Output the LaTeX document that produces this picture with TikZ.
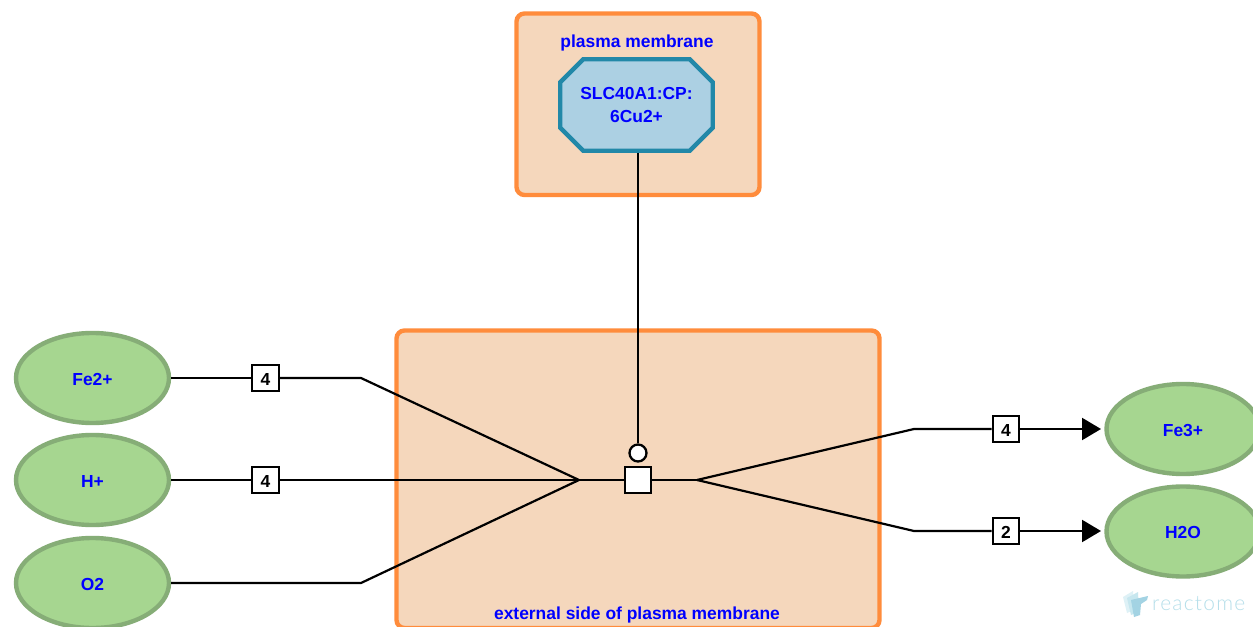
\documentclass[tikz,border=0pt]{standalone}
\usepackage{fontspec}
\setmainfont{Liberation Sans}
\newfontfamily\wmfont[LetterSpace=6]{Lato Light}
\usetikzlibrary{shapes.geometric,shapes.misc,arrows.meta}
\definecolor{compfill}{HTML}{F5D7BC}
\definecolor{compline}{HTML}{FF8C3C}
\definecolor{molfill}{HTML}{A6D690}
\definecolor{molline}{HTML}{86AD77}
\definecolor{cplxfill}{HTML}{ACD0E3}
\definecolor{cplxline}{HTML}{2288A8}
\definecolor{wm}{HTML}{B5DFEA}
\definecolor{wmb}{HTML}{8CC8DC}
\tikzset{
  x=1bp,y=-1bp,
  lbl/.style={text=blue,font=\fontsize{17.5}{22}\selectfont\bfseries,align=center,inner sep=0pt},
  compbox/.style={draw=compline,fill=compfill,line width=4.4bp,rounded corners=8bp,inner sep=0pt},
  mol/.style={ellipse,draw=molline,fill=molfill,line width=4.4bp,minimum width=153bp,minimum height=90bp,inner sep=0pt,lbl,text height=14bp,text depth=0pt},
  cplx/.style={chamfered rectangle,chamfered rectangle xsep=11.5bp,chamfered rectangle ysep=11.5bp,draw=cplxline,fill=cplxfill,line width=4.4bp,minimum width=152.5bp,minimum height=91.5bp,inner sep=0pt,lbl},
  stoich/.style={rectangle,draw=black,fill=white,line width=2.3bp,minimum size=26.5bp,inner sep=0pt,font=\fontsize{17.5}{18}\selectfont\bfseries,text height=14.5bp,text depth=0pt},
  rxn/.style={rectangle,draw=black,fill=white,line width=2.3bp,minimum size=26.5bp,inner sep=0pt},
  catal/.style={circle,draw=black,fill=white,line width=2.3bp,minimum size=17bp,inner sep=0pt},
  conn/.style={draw=black,line width=2.2bp},
  prod/.style={conn,-{Triangle[length=19bp,width=22bp]}},
}
\begin{document}
\begin{tikzpicture}
\useasboundingbox (0,0) rectangle (1253,627);
\clip (0,0) rectangle (1253,627);
\fill[white] (0,0) rectangle (1253,627);
% compartments
\draw[compbox] (516.5,13.5) rectangle (759.5,195);
\draw[compbox] (396.5,330.5) rectangle (879.5,628);
\node[lbl] (tplasma) at (637,43) {plasma membrane};
\node[lbl] (text) at (637,615) {external side of plasma membrane};
% entities
\node[cplx] (cp) at (636.5,105) {SLC40A1:CP:\\[1bp]6Cu2+};
\node[mol] (fe2) at (92.5,378) {Fe2+};
\node[mol] (hp) at (92.5,480) {H+};
\node[mol] (o2) at (92.5,583) {O2};
\node[mol] (fe3) at (1183,429) {Fe3+};
\node[mol] (h2o) at (1183,531.5) {H2O};
% process
\node[rxn] (rx) at (638,480) {};
\node[catal] (cat) at (638,453) {};
\coordinate (j1) at (579,480);
\coordinate (j2) at (697,480);
\coordinate (b1) at (361,378);
\coordinate (b3) at (361,583);
\coordinate (b4) at (914,429);
\coordinate (b5) at (914,531);
\node[stoich] (s1) at (265.5,378) {4};
\node[stoich] (s2) at (265.5,480) {4};
\node[stoich] (s4) at (1006,429) {4};
\node[stoich] (s5) at (1006,531) {2};
\coordinate (e4) at (1101,429);
\coordinate (e5) at (1101,531);
\draw[conn] (fe2.east) -- (s1);
\draw[conn] (s1) -- (b1) -- (j1);
\draw[conn] (hp.east) -- (s2);
\draw[conn] (s2) -- (j1);
\draw[conn] (o2.east) -- (b3) -- (j1);
\draw[conn] (j1) -- (rx);
\draw[conn] (rx) -- (j2);
\draw[conn] (j2) -- (b4) -- (s4);
\draw[conn] (j2) -- (b5) -- (s5);
\draw[prod] (s4) -- (e4);
\draw[prod] (s5) -- (e5);
\draw[conn] (cp.south -| cat.north) -- (cat.north);
% redraw boxes above the lines
\node[stoich] at (s1) {4};
\node[stoich] at (s2) {4};
\node[stoich] at (s4) {4};
\node[stoich] at (s5) {2};
\node[rxn] at (rx) {};
% watermark
\fill[wm!45] (1123,597) -- (1133,591) -- (1134,610) -- (1127,613) -- cycle;
\fill[wm!75] (1127,598) -- (1138,592) -- (1139,612) -- (1131,615) -- cycle;
\fill[wmb!80] (1131,600) -- (1148,596) -- (1147,600) -- (1141,604) -- (1140,615) -- (1134,617) -- cycle;
\node[text=wm,font=\wmfont\fontsize{21}{22}\selectfont,inner sep=0pt,anchor=west] (wmt) at (1152,604) {reactome};
\end{tikzpicture}
\end{document}
